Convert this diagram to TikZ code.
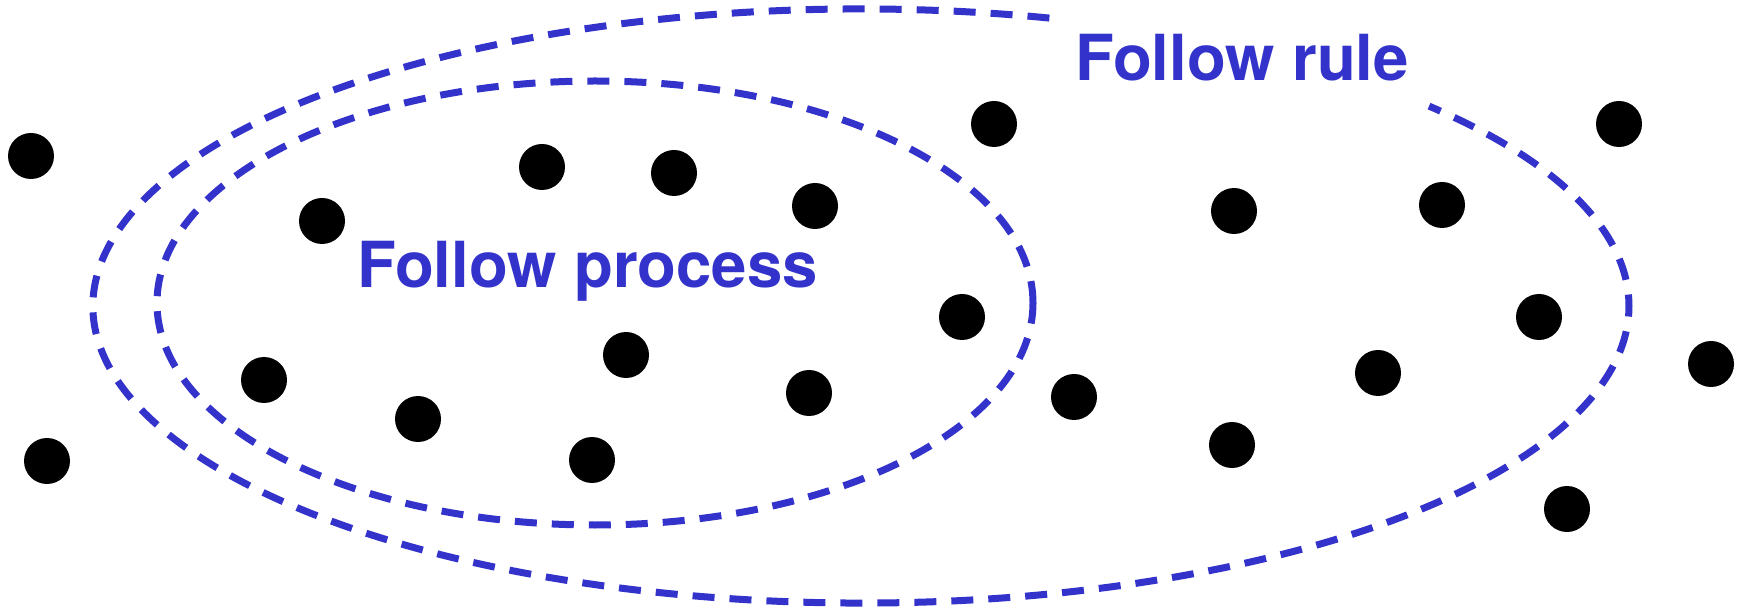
\documentclass[tikz,border=0pt]{standalone}
\usepackage{fontspec}
\setmainfont{TeX Gyre Heros}
\definecolor{rulblue}{HTML}{3333CC}
\begin{document}
\begin{tikzpicture}[x=1pt,y=1pt,
  dot/.style={circle,fill=black,minimum size=46pt,inner sep=0pt},
  boundary/.style={draw=rulblue,line width=7pt,dash pattern=on 22pt off 15pt},
  lbl/.style={anchor=base west,inner sep=0pt,text=rulblue,font=\fontsize{63.5}{64}\selectfont\bfseries}]
\useasboundingbox (0,0) rectangle (1739,608);
% outer region (open at the top right)
\draw[boundary] (861,302) ++(75.8:768 and 297)
  arc[start angle=75.8,end angle=402.3,x radius=768,y radius=297];
% inner region
\draw[boundary] (595,305) ellipse[x radius=438,y radius=222];
% labels
\node[lbl] (rule) at (1075,527) {Follow rule};
\node[lbl] (process) at (357,320) {Follow process};
% dots
\node[dot] (d1) at (31,452) {};
\node[dot] (d2) at (47,147) {};
\node[dot] (d3) at (322,387) {};
\node[dot] (d4) at (542,441) {};
\node[dot] (d5) at (674,435) {};
\node[dot] (d6) at (815,402) {};
\node[dot] (d7) at (264,228) {};
\node[dot] (d8) at (418,189) {};
\node[dot] (d9) at (626,253) {};
\node[dot] (d10) at (592,148) {};
\node[dot] (d11) at (809,215) {};
\node[dot] (d12) at (962,291) {};
\node[dot] (d13) at (994,484) {};
\node[dot] (d14) at (1074,211) {};
\node[dot] (d15) at (1234,397) {};
\node[dot] (d16) at (1232,163) {};
\node[dot] (d17) at (1442,403) {};
\node[dot] (d18) at (1539,291) {};
\node[dot] (d19) at (1378,235) {};
\node[dot] (d20) at (1619,484) {};
\node[dot] (d21) at (1711,244) {};
\node[dot] (d22) at (1567,99) {};
\end{tikzpicture}
\end{document}
